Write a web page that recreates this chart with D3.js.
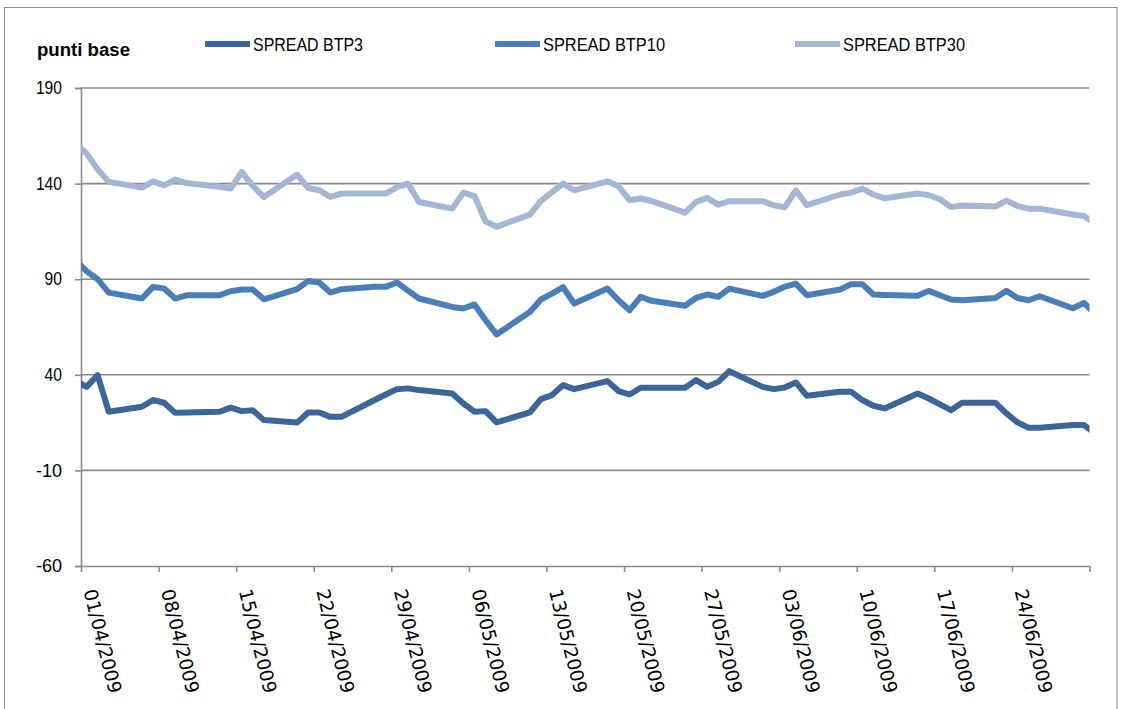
<!DOCTYPE html>
<html><head><meta charset="utf-8">
<script src="https://cdn.jsdelivr.net/npm/d3@7"></script>
<style>
html,body{margin:0;padding:0;background:#fff;}
svg{display:block;}
</style></head>
<body>
<svg id="chart" width="1129" height="709"></svg>
<script>
const dates = ["31/03/2009","01/04/2009","02/04/2009","03/04/2009","06/04/2009","07/04/2009","08/04/2009","09/04/2009","10/04/2009","13/04/2009","14/04/2009","15/04/2009","16/04/2009","17/04/2009","20/04/2009","21/04/2009","22/04/2009","23/04/2009","24/04/2009","27/04/2009","28/04/2009","29/04/2009","30/04/2009","01/05/2009","04/05/2009","05/05/2009","06/05/2009","07/05/2009","08/05/2009","11/05/2009","12/05/2009","13/05/2009","14/05/2009","15/05/2009","18/05/2009","19/05/2009","20/05/2009","21/05/2009","22/05/2009","25/05/2009","26/05/2009","27/05/2009","28/05/2009","29/05/2009","01/06/2009","02/06/2009","03/06/2009","04/06/2009","05/06/2009","08/06/2009","09/06/2009","10/06/2009","11/06/2009","12/06/2009","15/06/2009","16/06/2009","17/06/2009","18/06/2009","19/06/2009","22/06/2009","23/06/2009","24/06/2009","25/06/2009","26/06/2009","29/06/2009","30/06/2009","01/07/2009"];

const spreadBTP3 = [37,
 33.7,39.8,20.7,23.3,26.8,25.4,20.1,20.3,20.7,22.8,21.0,21.5,16.3,15.0,20.3,20.3,18.0,18.0,26.8,29.7,32.5,32.9,
 32.0,30.2,25.0,20.7,21.0,15.1,20.3,27.3,29.4,34.6,32.5,36.7,31.5,29.7,33.2,33.2,33.2,37.2,33.7,36.3,41.9,
 33.7,32.5,33.4,36.0,29.0,31.1,31.1,26.8,23.8,22.4,30.2,27.6,24.5,21.5,25.4,25.4,19.8,15.1,12.3,12.3,13.7,13.7,
 9.5];

const spreadBTP10 = [100,
 94.2,90.0,83.0,79.9,86.0,85.1,79.9,81.6,81.6,83.7,84.6,84.6,79.5,84.8,89.1,88.3,83.0,84.8,86.0,86.0,88.3,84.0,
 79.9,75.5,74.7,76.8,68.6,61.1,72.9,79.4,82.5,85.8,77.3,85.1,79.0,73.8,80.8,78.7,76.1,80.2,82.0,80.8,85.1,
 81.3,83.4,86.0,87.7,81.6,84.6,87.4,87.4,82.0,81.8,81.3,83.9,81.6,79.4,79.0,80.2,83.9,80.2,79.0,81.1,74.8,77.6,
 72];

const spreadBTP30 = [161,
 155.7,147.5,140.9,137.9,141.2,139.1,142.1,140.3,138.3,137.4,146.1,138.8,133.0,144.7,137.7,136.5,133.0,134.8,134.8,134.8,138.1,140.0,
 130.4,126.9,135.3,133.5,120.3,117.4,123.8,130.9,135.6,140.0,136.5,141.2,138.6,131.3,132.2,130.9,124.8,130.4,132.5,129.0,130.8,
 130.8,128.7,127.6,136.5,128.7,134.3,135.3,137.4,134.3,132.3,134.8,133.9,131.8,127.8,128.5,128.0,131.1,128.2,126.9,126.9,123.8,123.1,
 119];

const seriesNames = ["SPREAD BTP3","SPREAD BTP10","SPREAD BTP30"];
const seriesColors = ["#3c6699","#4a7ebb","#a3b6d4"];
const yTicks = [190,140,90,40,-10,-60];
const xTickLabels = ["01/04/2009","08/04/2009","15/04/2009","22/04/2009","29/04/2009","06/05/2009","13/05/2009","20/05/2009","27/05/2009","03/06/2009","10/06/2009","17/06/2009","24/06/2009","01/07/2009"];
const yTitle = "punti base";

const parse = d3.timeParse("%d/%m/%Y");
const fmt = d3.timeFormat("%d/%m/%Y");
const svg = d3.select("#chart");
const L = 81, R = 1089.5, T = 88, B = 566;

const x = d3.scaleTime().domain([parse("01/04/2009"), parse("01/07/2009")]).range([L, R]);
const y = d3.scaleLinear().domain([-60, 190]).range([B, T]);
const FONT = "'Liberation Sans',Arial,sans-serif";

// chart area border
svg.append("rect").attr("x",4.5).attr("y",7.5).attr("width",1112.5).attr("height",710)
  .attr("fill","none").attr("stroke","#8c8c8c").attr("stroke-width",1);

// gridlines
svg.append("g").selectAll("line").data(yTicks.filter(v=>v!==-60)).join("line")
  .attr("x1",L).attr("x2",R).attr("y1",d=>y(d)).attr("y2",d=>y(d))
  .attr("stroke","#8a8a8a").attr("stroke-width",1.6);

// y axis
const yAxis = svg.append("g").attr("transform",`translate(${L},0)`)
  .call(d3.axisLeft(y).tickValues(yTicks).tickSize(6).tickPadding(13).tickFormat(d => String(d)));
yAxis.select(".domain").attr("stroke","#8a8a8a").attr("stroke-width",1.6);
yAxis.selectAll(".tick line").attr("stroke","#8a8a8a").attr("stroke-width",1.6);
yAxis.selectAll(".tick text").attr("font-family",FONT).attr("font-size",18).attr("fill","#000")
  .attr("textLength", d => String(d).length * 8.7).attr("lengthAdjust","spacingAndGlyphs");

// x axis
const xTicks = xTickLabels.map(parse);
const lastTick = +xTicks[xTicks.length-1];
const xAxis = svg.append("g").attr("transform",`translate(0,${B})`)
  .call(d3.axisBottom(x).tickValues(xTicks).tickSize(6).tickSizeOuter(0)
    .tickFormat(d => +d === lastTick ? "" : fmt(d)));
xAxis.select(".domain").attr("stroke","#8a8a8a").attr("stroke-width",1.6);
xAxis.selectAll(".tick line").attr("stroke","#8a8a8a").attr("stroke-width",1.6);
xAxis.selectAll(".tick text")
  .attr("font-family","'DejaVu Sans',sans-serif").attr("font-size",18.5).attr("fill","#000")
  .attr("text-anchor","start").attr("dy",null).attr("y",0)
  .attr("transform","translate(2,25) rotate(76)");

// clip
svg.append("clipPath").attr("id","plot").append("rect")
  .attr("x",L).attr("y",0).attr("width",R-L).attr("height",709);

const pts = dates.map(s => d3.timeHour.offset(parse(s), 12));
const line = d3.line().x((d,i)=>x(pts[i])).y(d=>y(d)).curve(d3.curveLinear);
const allSeries = [spreadBTP3, spreadBTP10, spreadBTP30];
svg.append("g").attr("clip-path","url(#plot)").selectAll("path").data(allSeries).join("path")
  .attr("d", d=>line(d)).attr("fill","none")
  .attr("stroke",(d,i)=>seriesColors[i]).attr("stroke-width",6)
  .attr("stroke-linejoin","round").attr("stroke-linecap","butt");

// y title
svg.append("text").attr("x",37).attr("y",56).text(yTitle)
  .attr("font-family",FONT).attr("font-weight","bold").attr("font-size",18).attr("fill","#000")
  .attr("textLength",93).attr("lengthAdjust","spacingAndGlyphs");

// legend
const legX = [205, 495, 795];
const legW = [110, 122, 122];
const leg = svg.append("g").selectAll("g").data(seriesNames).join("g")
  .attr("transform",(d,i)=>`translate(${legX[i]},44)`);
leg.append("line").attr("x1",0).attr("x2",45).attr("y1",0).attr("y2",0)
  .attr("stroke",(d,i)=>seriesColors[i]).attr("stroke-width",6);
leg.append("text").attr("x",48).attr("y",7).text(d=>d)
  .attr("font-family",FONT).attr("font-size",19).attr("fill","#000")
  .attr("textLength",(d,i)=>legW[i]).attr("lengthAdjust","spacingAndGlyphs");
</script>
</body></html>
